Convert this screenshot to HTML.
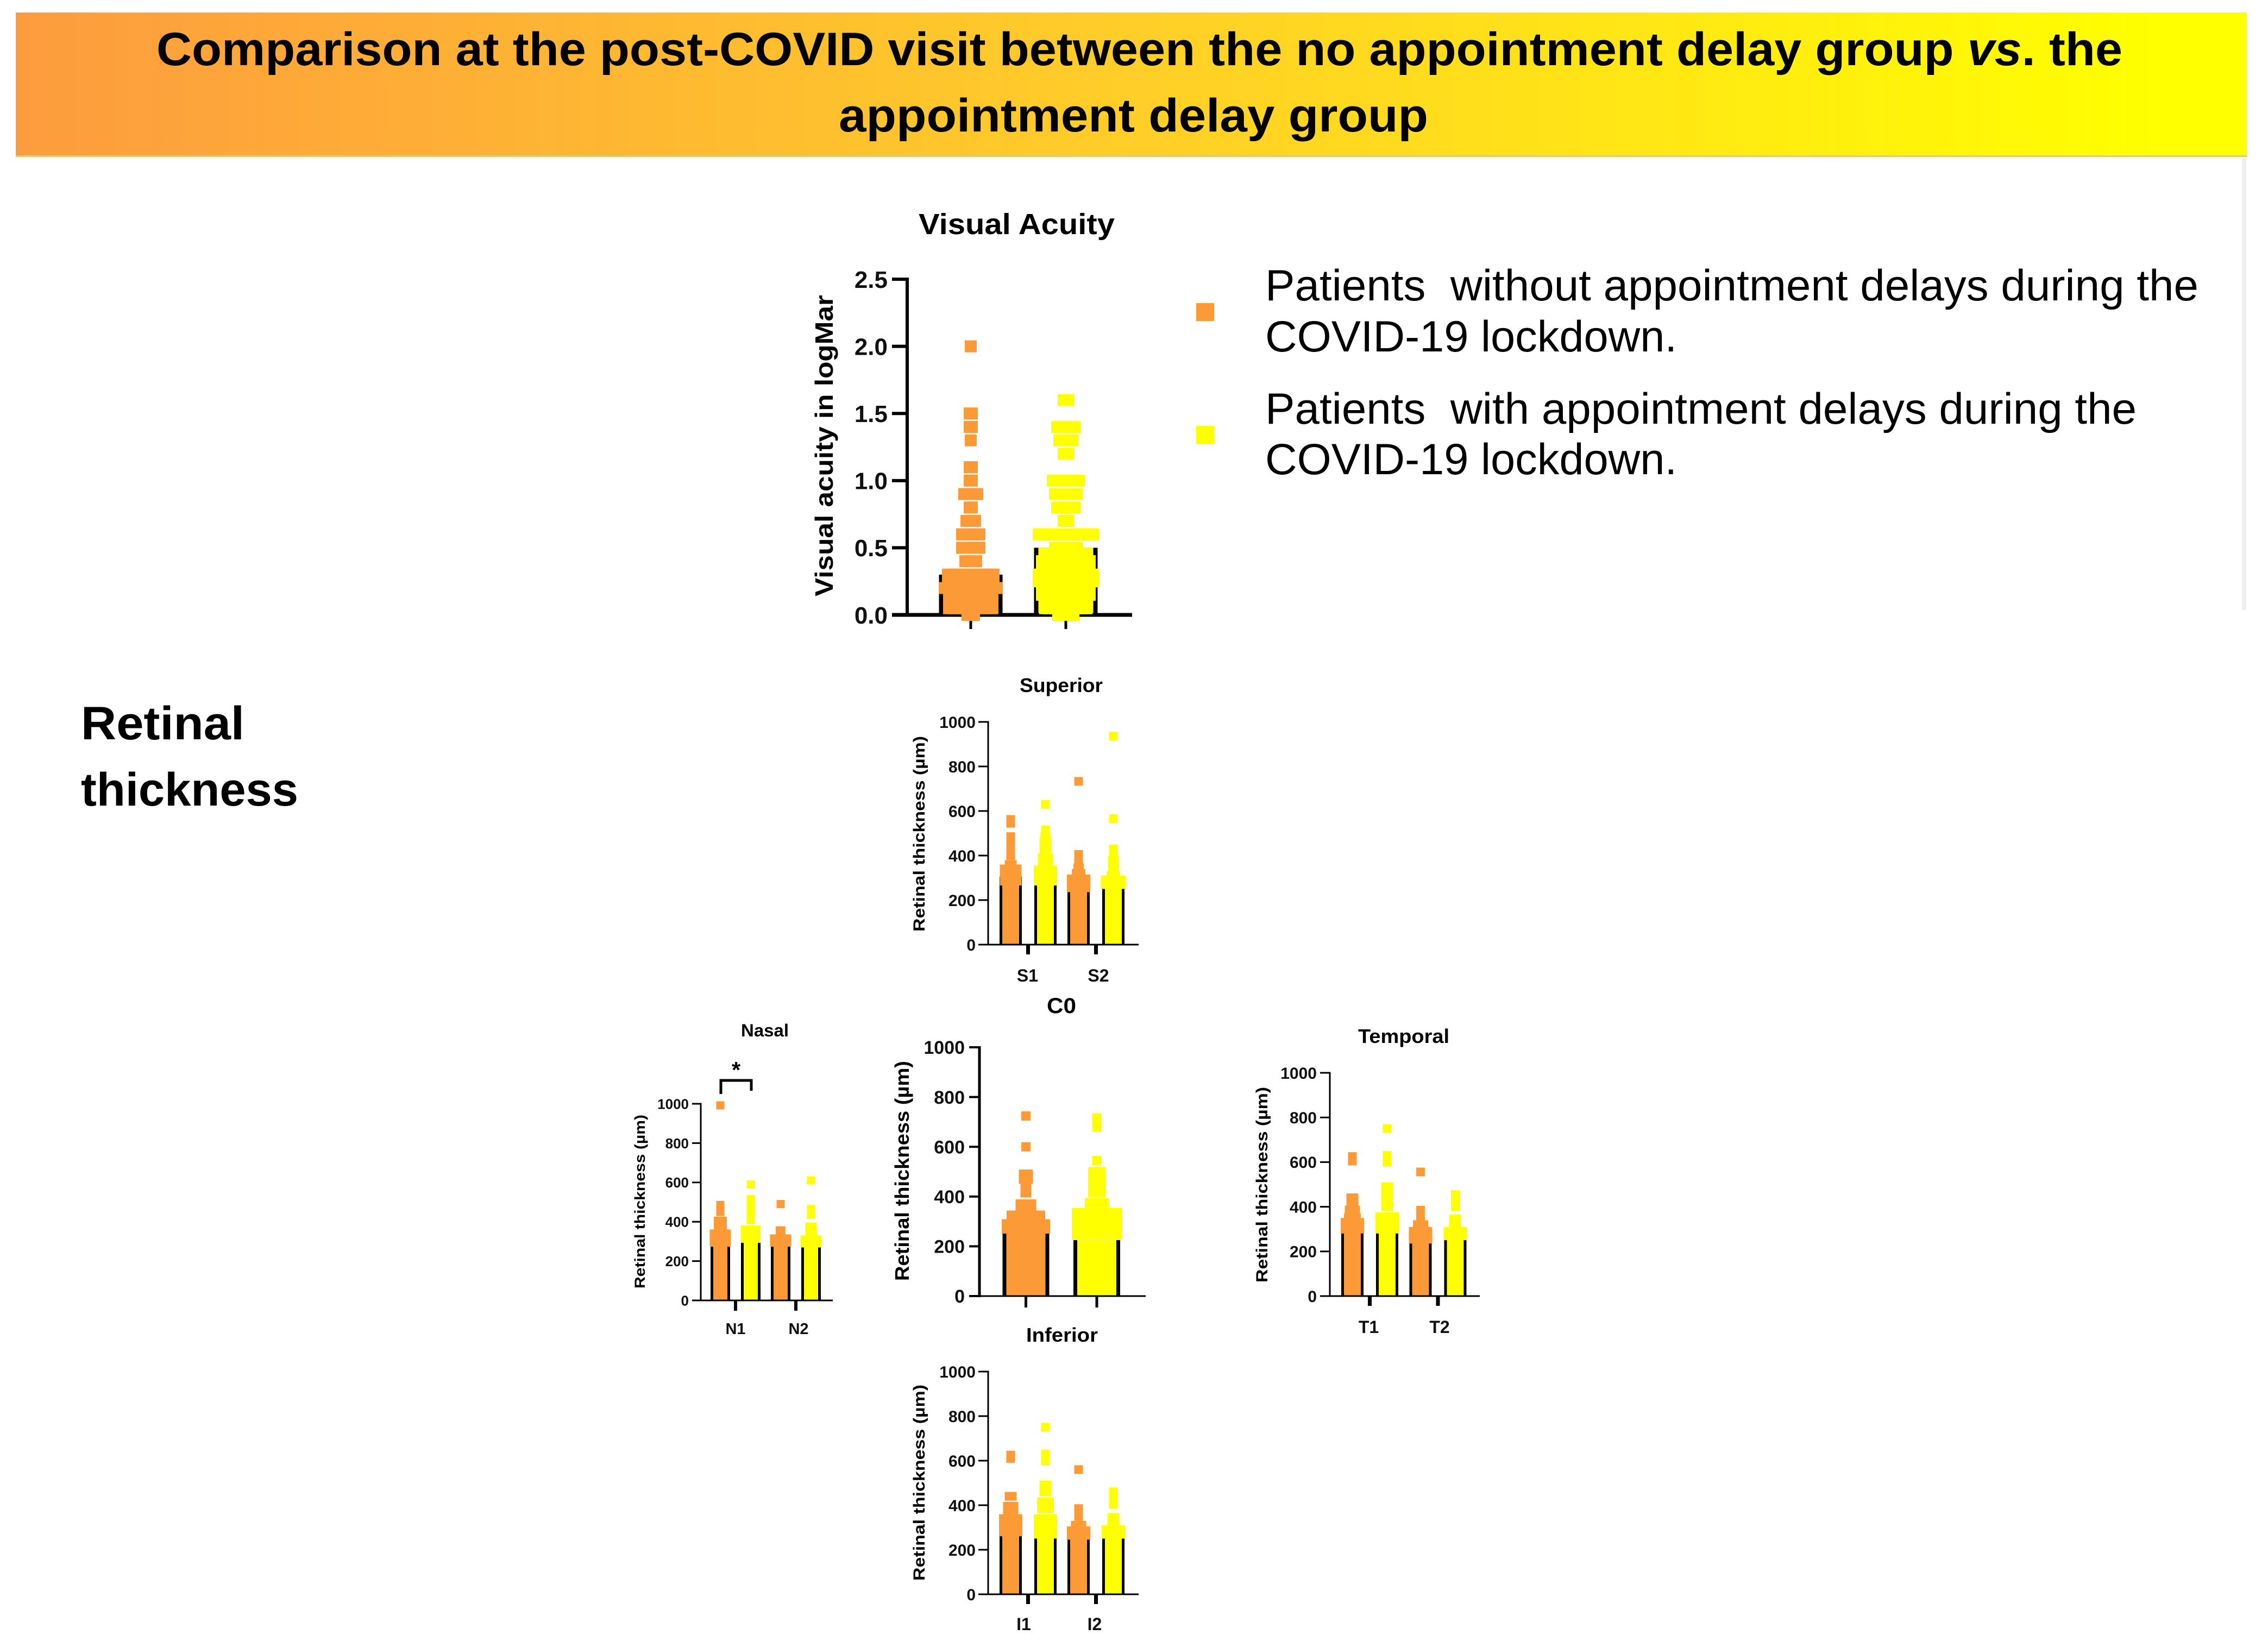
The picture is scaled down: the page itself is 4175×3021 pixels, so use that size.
<!DOCTYPE html>
<html lang="en">
<head>
<meta charset="utf-8">
<title>Comparison at the post-COVID visit</title>
<style>
html,body{margin:0;padding:0;background:#fff;}
svg{display:block;font-family:"Liberation Sans",Arial,sans-serif;}
</style>
</head>
<body>
<svg id="figure" xmlns="http://www.w3.org/2000/svg" width="4175" height="3021" viewBox="0 0 4175 3021">
  <defs>
    <linearGradient id="bannerGradient" x1="0" y1="0" x2="1" y2="0">
      <stop offset="0" stop-color="#FD9C3E"/>
      <stop offset="0.5" stop-color="#FFCE28"/>
      <stop offset="0.96" stop-color="#FFFF00"/>
    </linearGradient>
  </defs>
  <rect x="0" y="0" width="4175" height="3021" fill="#ffffff"/>
  <rect x="4127" y="290" width="8" height="833" fill="#eeeeee"/>
  <rect x="29" y="286" width="4107" height="3" fill="#d8cc80"/>
  <rect x="29" y="289" width="4107" height="3" fill="#fffbd0"/>
  <rect x="29" y="23" width="4107" height="263" fill="url(#bannerGradient)"/>
  <text x="288" y="120" font-size="86" font-weight="700" fill="#000" textLength="3619" lengthAdjust="spacingAndGlyphs">Comparison at the post-COVID visit between the no appointment delay group <tspan font-style="italic">vs</tspan>. the</text>
  <text x="1544" y="242" font-size="86" font-weight="700" fill="#000" textLength="1085" lengthAdjust="spacingAndGlyphs">appointment delay group</text>
  <text x="149" y="1361" font-size="86" font-weight="700" fill="#000" textLength="301" lengthAdjust="spacingAndGlyphs">Retinal</text>
  <text x="149" y="1483" font-size="86" font-weight="700" fill="#000" textLength="400" lengthAdjust="spacingAndGlyphs">thickness</text>

  <g>
    <rect x="2202" y="558" width="33" height="33" fill="#FD9A38"/>
    <text x="2329" y="553" font-size="81" fill="#000" textLength="1718" lengthAdjust="spacingAndGlyphs" xml:space="preserve">Patients  without appointment delays during the</text>
    <text x="2329" y="647" font-size="81" fill="#000" textLength="758" lengthAdjust="spacingAndGlyphs">COVID-19 lockdown.</text>
    <rect x="2202" y="784" width="33" height="33" fill="#FFFF00"/>
    <text x="2329" y="780" font-size="81" fill="#000" textLength="1604" lengthAdjust="spacingAndGlyphs" xml:space="preserve">Patients  with appointment delays during the</text>
    <text x="2329" y="873" font-size="81" fill="#000" textLength="758" lengthAdjust="spacingAndGlyphs">COVID-19 lockdown.</text>
  </g>

  <g>
    <path d="M1327 2014 V1989 H1383 V2008" fill="none" stroke="#000" stroke-width="5"/>
    <text x="1355" y="1984" font-size="42" font-weight="700" text-anchor="middle" fill="#000">*</text>
  </g>
</svg>

<script>
// ---- tick labels ----
const acuityTicks = [0, 0.5, 1, 1.5, 2, 2.5];
const thicknessTicks = [0, 200, 400, 600, 800, 1000];

// ---- categories ----
const acuityCategories = ["", ""];
const superiorCategories = ["S1", "S2"];
const nasalCategories = ["N1", "N2"];
const centralCategories = ["", ""];
const temporalCategories = ["T1", "T2"];
const inferiorCategories = ["I1", "I2"];

// ---- Visual acuity: bar means and swarm rows (value + number of patients) ----
const acuityMeans = [0.3, 0.5];
const acuityNoDelayValues = [0, 0.05, 0.1, 0.15, 0.2, 0.25, 0.3, 0.4, 0.5, 0.6, 0.7, 0.8, 0.9, 1.0, 1.1, 1.3, 1.4, 1.5, 2.0];
const acuityNoDelayCounts = [4, 21, 21, 21, 25, 22, 22, 6, 9, 9, 5, 2, 7, 2, 2, 1, 2, 2, 1];
const acuityDelayValues = [0, 0.05, 0.1, 0.15, 0.2, 0.25, 0.3, 0.35, 0.4, 0.45, 0.5, 0.6, 0.7, 0.8, 0.9, 1.0, 1.2, 1.3, 1.4, 1.6];
const acuityDelayCounts = [8, 20, 20, 23, 23, 26, 26, 23, 23, 11, 11, 26, 3, 9, 11, 13, 3, 7, 9, 3];

// ---- Superior ----
const superiorMeans = [305, 295, 260, 265];
const s1NoDelayValues = [285, 300, 320, 340, 360, 400, 420, 450, 485, 545, 562];
const s1NoDelayCounts = [9, 9, 9, 9, 3, 1, 1, 1, 1, 1, 1];
const s1DelayValues = [285, 300, 315, 335, 360, 390, 430, 460, 485, 515, 630];
const s1DelayCounts = [10, 10, 10, 10, 5, 5, 3, 3, 2, 1, 1];
const s2NoDelayValues = [255, 275, 295, 320, 345, 375, 405, 733];
const s2NoDelayCounts = [10, 10, 10, 4, 2, 1, 1, 1];
const s2DelayValues = [270, 290, 310, 350, 380, 405, 430, 566, 936];
const s2DelayCounts = [11, 11, 4, 2, 2, 1, 1, 1, 1];

// ---- Nasal ----
const nasalMeans = [274, 293, 274, 274];
const n1NoDelayValues = [295, 320, 340, 380, 405, 450, 485, 992];
const n1NoDelayCounts = [9, 9, 9, 4, 4, 1, 1, 1];
const n1DelayValues = [315, 330, 360, 410, 445, 480, 515, 590];
const n1DelayCounts = [8, 8, 8, 1, 1, 1, 1, 1];
const n2NoDelayValues = [295, 315, 356, 490];
const n2NoDelayCounts = [9, 9, 2, 1];
const n2DelayValues = [290, 310, 345, 375, 435, 465, 610];
const n2DelayCounts = [9, 9, 3, 3, 1, 1, 1];

// ---- Central C0 ----
const centralMeans = [265, 225];
const c0NoDelayValues = [270, 290, 310, 325, 350, 370, 415, 440, 470, 490, 600, 724];
const c0NoDelayCounts = [25, 25, 19, 19, 8, 8, 2, 2, 4, 4, 1, 1];
const c0DelayValues = [245, 265, 290, 315, 335, 375, 415, 440, 470, 500, 545, 680, 715];
const c0DelayCounts = [26, 26, 26, 26, 26, 10, 6, 6, 6, 6, 1, 1, 1];

// ---- Temporal ----
const temporalMeans = [300, 288, 250, 254];
const t1NoDelayValues = [300, 310, 330, 350, 385, 420, 440, 605, 625];
const t1NoDelayCounts = [10, 10, 10, 6, 5, 3, 3, 1, 1];
const t1DelayValues = [300, 310, 330, 355, 400, 430, 460, 490, 600, 630, 750];
const t1DelayCounts = [10, 10, 10, 10, 3, 3, 3, 3, 1, 1, 1];
const t2NoDelayValues = [255, 270, 290, 320, 355, 385, 556];
const t2NoDelayCounts = [10, 10, 10, 5, 1, 1, 1];
const t2DelayValues = [270, 290, 320, 345, 400, 425, 455];
const t2DelayCounts = [10, 10, 3, 3, 1, 1, 1];

// ---- Inferior ----
const inferiorMeans = [300, 287, 250, 250];
const i1NoDelayValues = [280, 300, 320, 340, 375, 395, 440, 610, 625];
const i1NoDelayCounts = [10, 10, 10, 10, 5, 5, 3, 1, 1];
const i1DelayValues = [270, 295, 320, 340, 385, 415, 460, 490, 600, 630, 750];
const i1DelayCounts = [10, 10, 10, 10, 6, 6, 3, 3, 1, 1, 1];
const i2NoDelayValues = [265, 285, 310, 350, 385, 560];
const i2NoDelayCounts = [10, 10, 5, 1, 1, 1];
const i2DelayValues = [270, 290, 325, 345, 405, 430, 460];
const i2DelayCounts = [10, 10, 3, 3, 1, 1, 1];

const NO_DELAY_COLOR = "#FD9A38";
const DELAY_COLOR = "#FFFF00";
const SVG_NS = "http://www.w3.org/2000/svg";
const figure = document.getElementById("figure");

function shape(parent, tag, props) {
  const el = document.createElementNS(SVG_NS, tag);
  for (const key in props) el.setAttribute(key, props[key]);
  parent.appendChild(el);
  return el;
}

function drawPanel(p) {
  const yScale = v => p.y0 - (v / p.max) * (p.y0 - p.yTop);
  const barCenter = (cat, grp) => p.firstCenter + cat * p.clusterStep + grp * p.innerStep;
  const catCenter = cat => barCenter(cat, (p.groups.length / p.categories.length - 1) / 2);

  const g = shape(figure, "g", {});
  
  

  const title = shape(g, "text", {x: p.titleX, y: p.titleY, "font-size": p.titleSize, "font-weight": 700, fill: "#000", textLength: p.titleLen, lengthAdjust: "spacingAndGlyphs"});
  title.textContent = p.title;
  
  

  const yTitle = shape(g, "text", {x: p.yLabelX, y: p.yLabelBottom, "font-size": p.labelSize, "font-weight": 700, fill: "#000", textLength: p.yLabelLen, lengthAdjust: "spacingAndGlyphs", transform: "rotate(-90 " + p.yLabelX + " " + p.yLabelBottom + ")"});
  yTitle.textContent = p.yLabel;
  
  

  // y axis + ticks
  const yAxis = shape(g, "rect", {x: p.axisX - p.axisW / 2, y: yScale(p.max) - p.tickW / 2, width: p.axisW, height: p.y0 - yScale(p.max) + p.tickW, fill: "#000"});
  
  
  p.ticks.forEach(t => {
    const tick = shape(g, "rect", {x: p.tickLeft, y: yScale(t) - p.tickW / 2, width: p.axisX - p.tickLeft, height: p.tickW, fill: "#000"});
    
    
    const label = shape(g, "text", {x: p.tickLabelRight, y: yScale(t) + p.tickFont * 0.36, "font-size": p.tickFont, "font-weight": 700, "text-anchor": "end", fill: "#111"});
    label.textContent = p.tickFormat(t);
    
    
  });

  // x axis + category ticks
  const xAxis = shape(g, "rect", {x: p.tickLeft, y: p.y0 - p.xAxisW / 2, width: p.xEnd - p.tickLeft, height: p.xAxisW, fill: "#000"});
  
  
  p.categories.forEach((c, i) => {
    const tick = shape(g, "rect", {x: catCenter(i) - p.xTickW / 2, y: p.y0, width: p.xTickW, height: p.xTickBottom - p.y0, fill: "#000"});
    
    
    if (c) {
      const label = shape(g, "text", {x: p.xLabelFirst + i * p.xLabelStep, y: p.xLabelY, "font-size": p.xLabelSize, "font-weight": 700, "text-anchor": "middle", fill: "#111"});
      label.textContent = c;
      
      
    }
  });

  // bars (black sides only; the top edge is hidden behind the swarm) then swarms
  const groupsPerCat = p.groups.length / p.categories.length;
  p.groups.forEach((grp, i) => {
    const cat = Math.floor(i / groupsPerCat);
    const cx = barCenter(cat, i % groupsPerCat);
    const top = yScale(p.means[i]);
    const bar = shape(g, "rect", {x: cx - p.barW / 2, y: top, width: p.barW, height: p.y0 - top, fill: "#000"});
    
    
    const inner = shape(g, "rect", {x: cx - p.barW / 2 + p.barEdge, y: top, width: p.barW - 2 * p.barEdge, height: p.y0 - top - p.xAxisW / 2, fill: grp.color});
    
    
  });
  p.groups.forEach((grp, i) => {
    const cat = Math.floor(i / groupsPerCat);
    const cx = barCenter(cat, i % groupsPerCat);
    grp.values.forEach((v, r) => {
      const n = grp.counts[r];
      for (let k = 0; k < n; k++) {
        const pt = shape(g, "rect", {x: cx + (k - (n - 1) / 2) * p.dx - p.size / 2, y: yScale(v) - p.size / 2, width: p.size, height: p.size, fill: grp.color});
        
        
      }
    });
  });
}

const thicknessLabel = "Retinal thickness (\u00B5m)";
const plainFormat = t => String(t);

drawPanel({
  name: "visual-acuity", title: "Visual Acuity", titleX: 1691, titleY: 431, titleSize: 54, titleLen: 361,
  yLabel: "Visual acuity in logMar", yLabelX: 1533, yLabelBottom: 1098, yLabelLen: 555, labelSize: 46,
  max: 2.5, y0: 1132, yTop: 514, axisX: 1670, axisW: 6, tickW: 6, tickLeft: 1642, xEnd: 2084, xAxisW: 7,
  tickLabelRight: 1634, tickFont: 44, ticks: acuityTicks, tickFormat: t => t.toFixed(1),
  categories: acuityCategories, firstCenter: 1787, clusterStep: 175, innerStep: 0, xTickW: 5, xTickBottom: 1158,
  xLabelFirst: 0, xLabelStep: 0, xLabelY: 0, xLabelSize: 30, means: acuityMeans, barW: 117, barEdge: 8, dx: 4, size: 22,
  groups: [
    {key: "no-delay", color: NO_DELAY_COLOR, values: acuityNoDelayValues, counts: acuityNoDelayCounts},
    {key: "delay", color: DELAY_COLOR, values: acuityDelayValues, counts: acuityDelayCounts}
  ]
});

drawPanel({
  name: "superior", title: "Superior", titleX: 1877, titleY: 1274, titleSize: 36, titleLen: 153,
  yLabel: thicknessLabel, yLabelX: 1702, yLabelBottom: 1715, yLabelLen: 360, labelSize: 30,
  max: 1000, y0: 1739, yTop: 1329, axisX: 1819, axisW: 3, tickW: 3, tickLeft: 1801, xEnd: 2096, xAxisW: 3,
  tickLabelRight: 1796, tickFont: 30, ticks: thicknessTicks, tickFormat: plainFormat,
  categories: superiorCategories, firstCenter: 1860.5, clusterStep: 125, innerStep: 64, xTickW: 7, xTickBottom: 1757,
  xLabelFirst: 1891.5, xLabelStep: 130.5, xLabelY: 1807, xLabelSize: 32, means: superiorMeans, barW: 41, barEdge: 5, dx: 3, size: 16,
  groups: [
    {key: "s1-no-delay", color: NO_DELAY_COLOR, values: s1NoDelayValues, counts: s1NoDelayCounts},
    {key: "s1-delay", color: DELAY_COLOR, values: s1DelayValues, counts: s1DelayCounts},
    {key: "s2-no-delay", color: NO_DELAY_COLOR, values: s2NoDelayValues, counts: s2NoDelayCounts},
    {key: "s2-delay", color: DELAY_COLOR, values: s2DelayValues, counts: s2DelayCounts}
  ]
});

drawPanel({
  name: "nasal", title: "Nasal", titleX: 1364, titleY: 1908, titleSize: 32, titleLen: 88,
  yLabel: thicknessLabel, yLabelX: 1187, yLabelBottom: 2372, yLabelLen: 320, labelSize: 27,
  max: 1000, y0: 2394, yTop: 2032, axisX: 1290, axisW: 3, tickW: 3, tickLeft: 1274, xEnd: 1533, xAxisW: 3,
  tickLabelRight: 1268, tickFont: 26, ticks: thicknessTicks, tickFormat: plainFormat,
  categories: nasalCategories, firstCenter: 1326, clusterStep: 111, innerStep: 56, xTickW: 6, xTickBottom: 2413,
  xLabelFirst: 1354, xLabelStep: 116, xLabelY: 2456, xLabelSize: 29, means: nasalMeans, barW: 36, barEdge: 5, dx: 3, size: 15,
  groups: [
    {key: "n1-no-delay", color: NO_DELAY_COLOR, values: n1NoDelayValues, counts: n1NoDelayCounts},
    {key: "n1-delay", color: DELAY_COLOR, values: n1DelayValues, counts: n1DelayCounts},
    {key: "n2-no-delay", color: NO_DELAY_COLOR, values: n2NoDelayValues, counts: n2NoDelayCounts},
    {key: "n2-delay", color: DELAY_COLOR, values: n2DelayValues, counts: n2DelayCounts}
  ]
});

drawPanel({
  name: "central-c0", title: "C0", titleX: 1927, titleY: 1865, titleSize: 40, titleLen: 54,
  yLabel: thicknessLabel, yLabelX: 1673, yLabelBottom: 2358, yLabelLen: 405, labelSize: 36,
  max: 1000, y0: 2386, yTop: 1928, axisX: 1803, axisW: 5, tickW: 4, tickLeft: 1784, xEnd: 2109, xAxisW: 3,
  tickLabelRight: 1776, tickFont: 34, ticks: thicknessTicks, tickFormat: plainFormat,
  categories: centralCategories, firstCenter: 1888.5, clusterStep: 130.5, innerStep: 0, xTickW: 5, xTickBottom: 2407,
  xLabelFirst: 0, xLabelStep: 0, xLabelY: 0, xLabelSize: 30, means: centralMeans, barW: 86, barEdge: 7, dx: 3, size: 17,
  groups: [
    {key: "c0-no-delay", color: NO_DELAY_COLOR, values: c0NoDelayValues, counts: c0NoDelayCounts},
    {key: "c0-delay", color: DELAY_COLOR, values: c0DelayValues, counts: c0DelayCounts}
  ]
});

drawPanel({
  name: "temporal", title: "Temporal", titleX: 2500, titleY: 1920, titleSize: 36, titleLen: 168,
  yLabel: thicknessLabel, yLabelX: 2333, yLabelBottom: 2361, yLabelLen: 360, labelSize: 30,
  max: 1000, y0: 2386, yTop: 1975, axisX: 2448, axisW: 3, tickW: 3, tickLeft: 2430, xEnd: 2724, xAxisW: 3,
  tickLabelRight: 2424, tickFont: 30, ticks: thicknessTicks, tickFormat: plainFormat,
  categories: temporalCategories, firstCenter: 2489.5, clusterStep: 125.5, innerStep: 64, xTickW: 7, xTickBottom: 2404,
  xLabelFirst: 2519.5, xLabelStep: 130.5, xLabelY: 2454, xLabelSize: 32, means: temporalMeans, barW: 41, barEdge: 5, dx: 3, size: 16,
  groups: [
    {key: "t1-no-delay", color: NO_DELAY_COLOR, values: t1NoDelayValues, counts: t1NoDelayCounts},
    {key: "t1-delay", color: DELAY_COLOR, values: t1DelayValues, counts: t1DelayCounts},
    {key: "t2-no-delay", color: NO_DELAY_COLOR, values: t2NoDelayValues, counts: t2NoDelayCounts},
    {key: "t2-delay", color: DELAY_COLOR, values: t2DelayValues, counts: t2DelayCounts}
  ]
});

drawPanel({
  name: "inferior", title: "Inferior", titleX: 1889, titleY: 2470, titleSize: 36, titleLen: 132,
  yLabel: thicknessLabel, yLabelX: 1702, yLabelBottom: 2910, yLabelLen: 361, labelSize: 30,
  max: 1000, y0: 2935, yTop: 2525, axisX: 1819, axisW: 3, tickW: 3, tickLeft: 1801, xEnd: 2096, xAxisW: 3,
  tickLabelRight: 1796, tickFont: 30, ticks: thicknessTicks, tickFormat: plainFormat,
  categories: inferiorCategories, firstCenter: 1860.5, clusterStep: 125, innerStep: 64, xTickW: 7, xTickBottom: 2953,
  xLabelFirst: 1884.5, xLabelStep: 130.5, xLabelY: 3001, xLabelSize: 32, means: inferiorMeans, barW: 41, barEdge: 5, dx: 3, size: 16,
  groups: [
    {key: "i1-no-delay", color: NO_DELAY_COLOR, values: i1NoDelayValues, counts: i1NoDelayCounts},
    {key: "i1-delay", color: DELAY_COLOR, values: i1DelayValues, counts: i1DelayCounts},
    {key: "i2-no-delay", color: NO_DELAY_COLOR, values: i2NoDelayValues, counts: i2NoDelayCounts},
    {key: "i2-delay", color: DELAY_COLOR, values: i2DelayValues, counts: i2DelayCounts}
  ]
});
</script>
</body>
</html>
